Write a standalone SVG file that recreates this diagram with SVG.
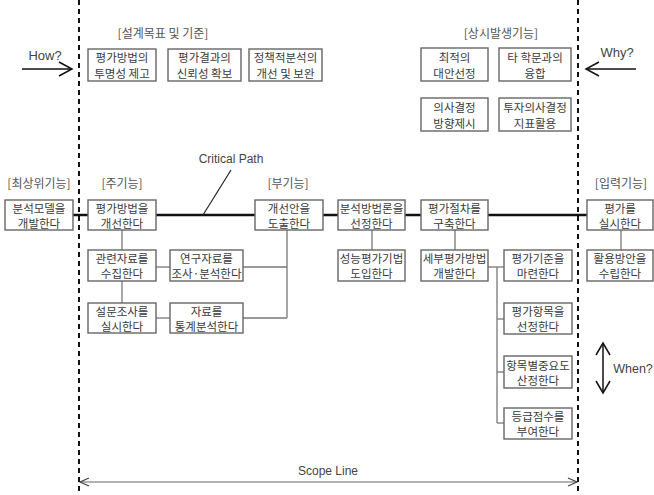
<svg xmlns="http://www.w3.org/2000/svg" width="654" height="495" viewBox="0 0 654 495">
<style>
.box{fill:#fff;stroke:#666;stroke-width:1.4}
.kt{font-family:"Noto Sans CJK KR","Noto Sans",sans-serif;font-size:11.5px;fill:#3a3a3a;text-anchor:middle;dominant-baseline:central}
.lb{font-family:"Noto Sans CJK KR","Noto Sans",sans-serif;font-size:12px;fill:#555;text-anchor:middle;dominant-baseline:central}
.en{font-family:"Liberation Sans",Arial,sans-serif;fill:#444;dominant-baseline:central}
.con{fill:none;stroke:#777;stroke-width:1.3}
.main{fill:none;stroke:#111;stroke-width:2.5}
.dash{fill:none;stroke:#111;stroke-width:2;stroke-dasharray:5 4}
.arr{fill:none;stroke:#111;stroke-width:1.5}
</style>
<rect width="654" height="495" fill="#fff"/>
<g id="scope">
<line class="dash" x1="79" y1="0" x2="79" y2="495"/>
<line class="dash" x1="578" y1="0" x2="578" y2="495"/>
<line x1="80" y1="482" x2="577" y2="482" stroke="#666" stroke-width="1.2"/>
<polyline points="89,478 80,482 89,486" fill="none" stroke="#444" stroke-width="1.2"/>
<polyline points="568,478 577,482 568,486" fill="none" stroke="#444" stroke-width="1.2"/>
<text class="en" x="328" y="471" font-size="12" text-anchor="middle">Scope Line</text>
<line class="arr" x1="22" y1="69" x2="72" y2="69"/>
<polyline class="arr" points="59,62 72,69 59,76"/>
<text class="en" x="45" y="55" font-size="13" text-anchor="middle">How?</text>
<line class="arr" x1="636" y1="69" x2="586" y2="69"/>
<polyline class="arr" points="599,62 586,69 599,76"/>
<text class="en" x="617" y="52" font-size="13" text-anchor="middle">Why?</text>
<line class="arr" x1="603" y1="343" x2="603" y2="393" stroke-width="1.8"/>
<polyline class="arr" points="596,355 603,343 610,355" stroke-width="1.8"/>
<polyline class="arr" points="596,381 603,393 610,381" stroke-width="1.8"/>
<text class="en" x="633" y="369" font-size="12.5" text-anchor="middle">When?</text>
</g>
<g id="labels">
<text class="lb" x="163" y="32">[설계목표 및 기준]</text>
<text class="lb" x="501" y="32">[상시발생기능]</text>
<text class="lb" x="39" y="182">[최상위기능]</text>
<text class="lb" x="122" y="182">[주기능]</text>
<text class="lb" x="288" y="182">[부기능]</text>
<text class="lb" x="621" y="182">[입력기능]</text>
<text class="en" x="231" y="159" font-size="12" text-anchor="middle">Critical Path</text>
</g>
<g id="connectors">
<line class="main" x1="73" y1="215" x2="587" y2="215"/>
<line x1="231" y1="170" x2="203" y2="215" stroke="#222" stroke-width="1.2"/>
<line class="con" x1="122" y1="230" x2="122" y2="303"/>
<line class="con" x1="156" y1="267" x2="170" y2="267"/>
<line class="con" x1="243" y1="267" x2="287" y2="267"/>
<line class="con" x1="287" y1="230" x2="287" y2="318"/>
<line class="con" x1="156" y1="318" x2="170" y2="318"/>
<line class="con" x1="243" y1="318" x2="287" y2="318"/>
<line class="con" x1="372" y1="230" x2="372" y2="250"/>
<line class="con" x1="455" y1="230" x2="455" y2="250"/>
<line class="con" x1="488" y1="267" x2="504" y2="267"/>
<line class="con" x1="497" y1="267" x2="497" y2="423"/>
<line class="con" x1="497" y1="319" x2="504" y2="319"/>
<line class="con" x1="497" y1="372" x2="504" y2="372"/>
<line class="con" x1="497" y1="423" x2="504" y2="423"/>
<line class="con" x1="621" y1="230" x2="621" y2="250"/>
</g>
<g id="t1"><rect class="box" x="88" y="49" width="68" height="32"/><text class="kt" x="122" y="57">평가방법의</text><text class="kt" x="122" y="73">투명성 제고</text></g>
<g id="t2"><rect class="box" x="168" y="49" width="73" height="32"/><text class="kt" x="204.5" y="57">평가결과의</text><text class="kt" x="204.5" y="73">신뢰성 확보</text></g>
<g id="t3"><rect class="box" x="249" y="49" width="73" height="32"/><text class="kt" x="285.5" y="57">정책적분석의</text><text class="kt" x="285.5" y="73">개선 및 보완</text></g>
<g id="t4"><rect class="box" x="421" y="48" width="67" height="33"/><text class="kt" x="454.5" y="56.5">최적의</text><text class="kt" x="454.5" y="72.5">대안선정</text></g>
<g id="t5"><rect class="box" x="499" y="48" width="72" height="33"/><text class="kt" x="535" y="56.5">타 학문과의</text><text class="kt" x="535" y="72.5">융합</text></g>
<g id="t6"><rect class="box" x="421" y="98" width="67" height="33"/><text class="kt" x="454.5" y="106.5">의사결정</text><text class="kt" x="454.5" y="122.5">방향제시</text></g>
<g id="t7"><rect class="box" x="499" y="98" width="72" height="33"/><text class="kt" x="535" y="106.5">투자의사결정</text><text class="kt" x="535" y="122.5">지표활용</text></g>
<g id="n1"><rect class="box" x="5" y="200" width="68" height="30"/><text class="kt" x="39" y="207.5">분석모델을</text><text class="kt" x="39" y="222.5">개발한다</text></g>
<g id="n2"><rect class="box" x="88" y="200" width="68" height="30"/><text class="kt" x="122" y="207.5">평가방법을</text><text class="kt" x="122" y="222.5">개선한다</text></g>
<g id="n3"><rect class="box" x="255" y="200" width="68" height="30"/><text class="kt" x="289" y="207.5">개선안을</text><text class="kt" x="289" y="222.5">도출한다</text></g>
<g id="n4"><rect class="box" x="338" y="200" width="67" height="30"/><text class="kt" x="371.5" y="207.5">분석방법론을</text><text class="kt" x="371.5" y="222.5">선정한다</text></g>
<g id="n5"><rect class="box" x="421" y="200" width="67" height="30"/><text class="kt" x="454.5" y="207.5">평가절차를</text><text class="kt" x="454.5" y="222.5">구축한다</text></g>
<g id="n6"><rect class="box" x="587" y="200" width="66" height="30"/><text class="kt" x="620" y="207.5">평가를</text><text class="kt" x="620" y="222.5">실시한다</text></g>
<g id="n7"><rect class="box" x="88" y="250" width="68" height="31"/><text class="kt" x="122" y="258">관련자료를</text><text class="kt" x="122" y="273">수집한다</text></g>
<g id="n8"><rect class="box" x="170" y="250" width="73" height="31"/><text class="kt" x="206.5" y="258">연구자료를</text><text class="kt" x="206.5" y="273">조사·분석한다</text></g>
<g id="n9"><rect class="box" x="338" y="250" width="67" height="31"/><text class="kt" x="371.5" y="258">성능평가기법</text><text class="kt" x="371.5" y="273">도입한다</text></g>
<g id="n10"><rect class="box" x="421" y="250" width="67" height="31"/><text class="kt" x="454.5" y="258">세부평가방법</text><text class="kt" x="454.5" y="273">개발한다</text></g>
<g id="n11"><rect class="box" x="504" y="250" width="68" height="31"/><text class="kt" x="538" y="258">평가기준을</text><text class="kt" x="538" y="273">마련한다</text></g>
<g id="n12"><rect class="box" x="587" y="250" width="66" height="31"/><text class="kt" x="620" y="258">활용방안을</text><text class="kt" x="620" y="273">수립한다</text></g>
<g id="n13"><rect class="box" x="88" y="303" width="68" height="30"/><text class="kt" x="122" y="310.5">설문조사를</text><text class="kt" x="122" y="325.5">실시한다</text></g>
<g id="n14"><rect class="box" x="170" y="303" width="73" height="30"/><text class="kt" x="206.5" y="310.5">자료를</text><text class="kt" x="206.5" y="325.5">통계분석한다</text></g>
<g id="n15"><rect class="box" x="504" y="303" width="68" height="31"/><text class="kt" x="538" y="311">평가항목을</text><text class="kt" x="538" y="326">선정한다</text></g>
<g id="n16"><rect class="box" x="504" y="356" width="68" height="32"/><text class="kt" x="538" y="364.5">항목별중요도</text><text class="kt" x="538" y="379.5">산정한다</text></g>
<g id="n17"><rect class="box" x="504" y="408" width="68" height="31"/><text class="kt" x="538" y="416">등급점수를</text><text class="kt" x="538" y="431">부여한다</text></g>
</svg>
